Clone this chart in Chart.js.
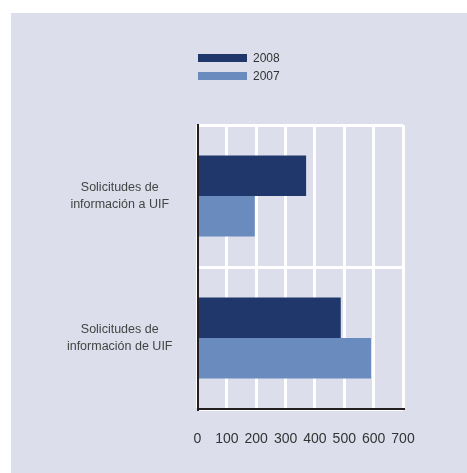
<!DOCTYPE html>
<html>
<head>
<meta charset="utf-8">
<script src="https://cdn.jsdelivr.net/npm/chart.js@4/dist/chart.umd.min.js"></script>
<style>
  html, body { margin: 0; padding: 0; background: #ffffff; }
  #wrap { position: absolute; left: 0; top: 0; width: 467px; height: 473px; }
</style>
</head>
<body>
<div id="wrap"><canvas id="c" width="467" height="473"></canvas></div>
<script>
const categories = [
  ["Solicitudes de", "información a UIF"],
  ["Solicitudes de", "información de UIF"]
];
const seriesNames = ["2008", "2007"];
const values2008 = [370, 488];
const values2007 = [195, 591];
const xTicks = [0, 100, 200, 300, 400, 500, 600, 700];

const colors = ["#1f376b", "#6a8bbd"];
const FONT = "'Liberation Sans', Arial, Helvetica, sans-serif";

const bgPlugin = {
  id: 'bg',
  beforeDraw(chart) {
    const ctx = chart.ctx;
    ctx.save();
    ctx.fillStyle = '#ffffff';
    ctx.fillRect(0, 0, chart.width, chart.height);
    ctx.fillStyle = '#dcdfeb';
    ctx.fillRect(11, 13, chart.width - 11, chart.height - 13);
    ctx.restore();
  }
};

const legendPlugin = {
  id: 'vlegend',
  afterDraw(chart) {
    const ctx = chart.ctx;
    ctx.save();
    const x0 = 198, w = 49, h = 8;
    const ys = [54, 72];
    chart.data.datasets.forEach((ds, i) => {
      ctx.fillStyle = ds.backgroundColor;
      ctx.fillRect(x0, ys[i], w, h);
      ctx.fillStyle = '#333333';
      ctx.font = '12px ' + FONT;
      ctx.textBaseline = 'middle';
      ctx.textAlign = 'left';
      ctx.fillText(ds.label, x0 + w + 6, ys[i] + h / 2 + 0.5);
    });
    ctx.restore();
  }
};

new Chart(document.getElementById('c'), {
  type: 'bar',
  data: {
    labels: categories,
    datasets: [
      { label: seriesNames[0], data: values2008, backgroundColor: colors[0], categoryPercentage: 0.572, barPercentage: 1.0 },
      { label: seriesNames[1], data: values2007, backgroundColor: colors[1], categoryPercentage: 0.572, barPercentage: 1.0 }
    ]
  },
  options: {
    indexAxis: 'y',
    responsive: false,
    animation: false,
    devicePixelRatio: 1,
    layout: { padding: { left: 0, top: 125, right: 64, bottom: 0 } },
    plugins: { legend: { display: false }, tooltip: { enabled: false } },
    scales: {
      x: {
        min: xTicks[0],
        max: xTicks[xTicks.length - 1],
        afterBuildTicks(scale) { scale.ticks = xTicks.map(v => ({ value: v })); },
        afterFit(scale) { scale.height = 64; },
        grid: { color: '#ffffff', lineWidth: 3, drawTicks: false },
        border: { display: true, color: '#231f20', width: 2 },
        ticks: { color: '#333333', font: { family: FONT, size: 14 }, padding: 22, maxRotation: 0, autoSkip: false }
      },
      y: {
        afterFit(scale) { scale.width = 197.5; },
        grid: { color: '#ffffff', lineWidth: 3, drawTicks: false, offset: true },
        border: { display: true, color: '#231f20', width: 2 },
        ticks: { color: '#444444', font: { family: FONT, size: 12.5, lineHeight: 1.35 }, padding: 25, crossAlign: 'center' }
      }
    }
  },
  plugins: [bgPlugin, legendPlugin]
});
</script>
</body>
</html>
